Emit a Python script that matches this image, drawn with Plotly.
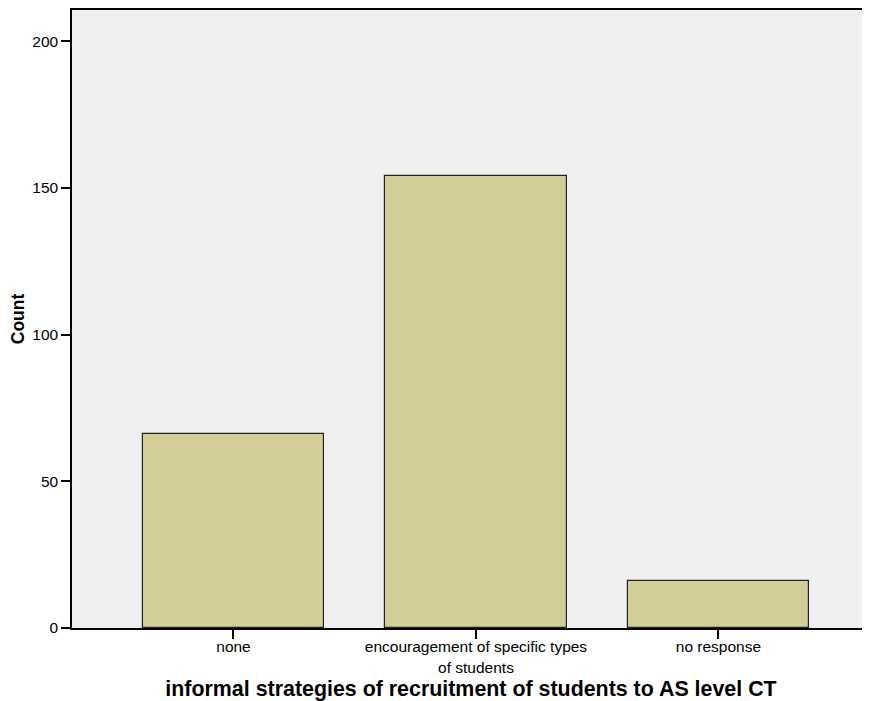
import plotly.graph_objects as go

categories = ["none", "encouragement of specific types<br>of students", "no response"]
counts = [66, 154, 16]
y_ticks = [0, 50, 100, 150, 200]

fig = go.Figure()
fig.add_trace(go.Bar(
    x=list(range(len(categories))),
    y=counts,
    width=0.75,
    marker=dict(color="#d3ce98", line=dict(color="#222222", width=1.2)),
    hoverinfo="skip",
))

font_family = "Liberation Sans, Arial, sans-serif"
# the page body has an 8px margin, so the figure is 8px smaller than the window
fig.update_layout(
    width=862, height=693,
    margin=dict(l=64, r=0, t=2, b=73),
    paper_bgcolor="white",
    plot_bgcolor="#f0f0f0",
    showlegend=False,
    font=dict(family=font_family, color="black", size=14),
    bargap=0,
)
fig.update_xaxes(
    range=[-0.666, 2.625],
    tickmode="array",
    tickvals=list(range(len(categories))),
    ticktext=categories,
    ticks="outside", ticklen=9, tickwidth=1.5, tickcolor="black",
    ticklabelstandoff=-5,
    showline=True, linecolor="black", linewidth=1.5, mirror=True,
    showgrid=False, zeroline=False,
    tickfont=dict(size=15.5),
    title=dict(text="<b>informal strategies of recruitment of students to AS level CT</b>",
               font=dict(size=21.4), standoff=7),
)
fig.update_yaxes(
    range=[0, 210.6],
    tickmode="array",
    tickvals=y_ticks,
    ticks="outside", ticklen=9, tickwidth=1.5, tickcolor="black",
    showline=True, linecolor="black", linewidth=1.5,
    showgrid=False, zeroline=False,
    tickfont=dict(size=15.5),
    title=dict(text="<b>Count</b>", font=dict(size=17.5), standoff=13),
)
fig.write_html("out.html")
